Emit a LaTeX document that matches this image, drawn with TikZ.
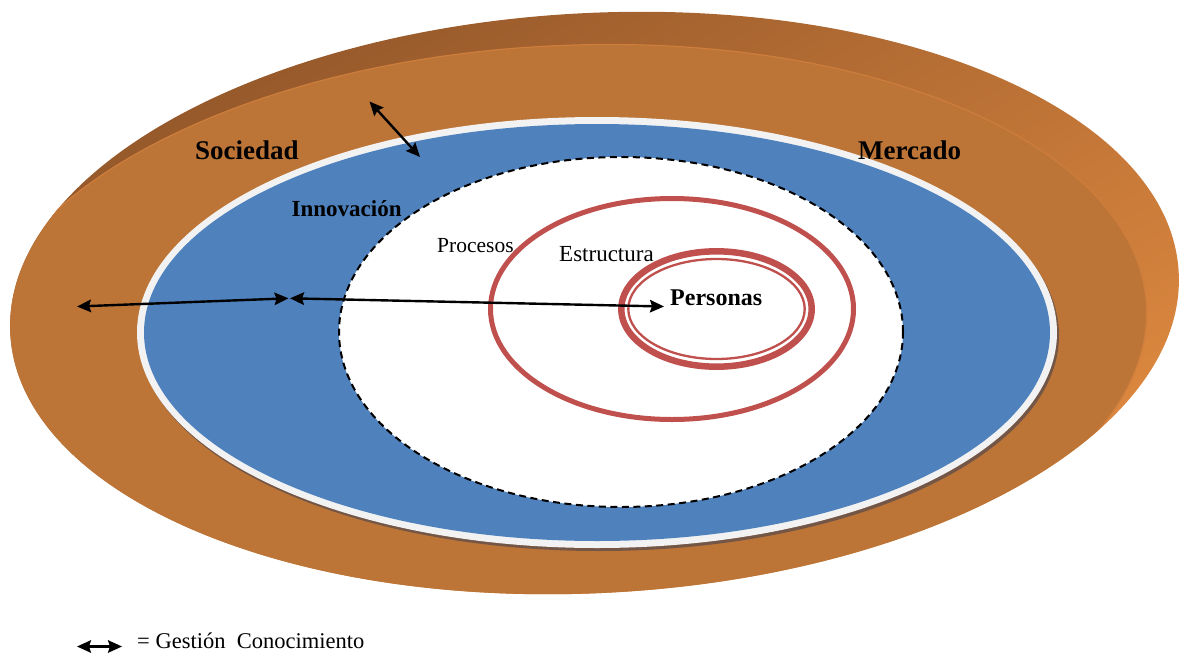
\documentclass[tikz,border=0pt]{standalone}
\usepackage{fontspec}
\setmainfont{Liberation Serif}
\usetikzlibrary{arrows.meta}
\definecolor{rimdark}{HTML}{93572A}
\definecolor{rimmid}{HTML}{A4622E}
\definecolor{rimlight}{HTML}{E08A40}
\definecolor{discface}{HTML}{BC7537}
\definecolor{discedge}{HTML}{CD7D3C}
\definecolor{ringshadow}{HTML}{735646}
\definecolor{ringwhite}{HTML}{F2F2F2}
\definecolor{innoblue}{HTML}{4F81BD}
\definecolor{corered}{HTML}{C0504D}
\begin{document}
\begin{tikzpicture}[x=1pt,y=-1pt,
  gctip/.tip={Stealth[length=14pt,width=12.5pt,inset=2pt]},
  gcarrow/.style={gctip-gctip, line width=2.4pt, black},
  lbl/.style={anchor=base west, inner sep=0pt, text=black},
  boldlbl/.style={lbl, font=\bfseries\fontsize{27}{30}\selectfont},
  plainlbl/.style={lbl, font=\fontsize{22}{26}\selectfont},
  redline/.style={draw=corered},
  disc/.style={x radius=585pt, y radius=290pt},
]
\useasboundingbox (0,0) rectangle (1181,654);

% outer disc, slightly tilted: side wall, then the top face
\begin{scope}[rotate around={3:(594.5,303)}]
  \shade[top color=rimdark, middle color=rimmid, bottom color=rimlight, shading angle=30]
    (594.5,303) ellipse [disc];
  \begin{scope}
    \clip (594.5,303) ellipse [disc];
    \fill[discface, draw=discedge, line width=1.2pt]
      (560.5,334) ellipse [disc];
  \end{scope}
\end{scope}

% innovation ring with its white rim and shadow
\fill[ringshadow] (599,335.5) ellipse [x radius=460pt, y radius=215.5pt];
\fill[ringwhite] (597,332.5) ellipse [x radius=460pt, y radius=215.5pt];
\fill[innoblue] (597,332.5) ellipse [x radius=453pt, y radius=208.5pt];

% processes (dashed boundary)
\draw[fill=white, line width=2pt, dash pattern=on 7pt off 4.5pt]
  (621,332) ellipse [x radius=282pt, y radius=175pt];

\node[plainlbl, font=\fontsize{21.5}{25}\selectfont] (procesos) at (437,252.7) {Procesos};

% structure and people
\draw[redline, line width=5pt] (672,309) ellipse [x radius=181.5pt, y radius=110.5pt];
\draw[redline, line width=6.5pt] (716.5,309) ellipse [x radius=95.2pt, y radius=57.7pt];
\draw[redline, line width=2.3pt] (716.5,309) ellipse [x radius=88.2pt, y radius=50pt];

% labels
\node[boldlbl] (sociedad) at (195,159.3) {Sociedad};
\node[boldlbl] (mercado) at (858,159.3) {Mercado};
\node[lbl, font=\bfseries\fontsize{23}{27}\selectfont] (innovacion) at (291.5,216.7) {Innovación};
\node[plainlbl, font=\fontsize{23}{27}\selectfont] (estructura) at (559,261.7) {Estructura};
\node[lbl, font=\bfseries\fontsize{24}{28}\selectfont] (personas) at (670,305) {Personas};

% knowledge-management arrows
\coordinate (a1) at (369.5,101.5);
\coordinate (a2) at (420,157);
\coordinate (b1) at (77,306.5);
\coordinate (b2) at (288.5,298.3);
\coordinate (c1) at (290,298.3);
\coordinate (c2) at (664,306.5);
\draw[gcarrow] (a1) -- (a2);
\draw[gcarrow] (b1) -- (b2);
\draw[gcarrow] (c1) -- (c2);

% legend
\coordinate (g1) at (77,646.5);
\coordinate (g2) at (122,646.5);
\draw[gcarrow, line width=2.2pt] (g1) -- (g2);
\node[plainlbl, font=\fontsize{22.5}{26}\selectfont] (legend) at (137,648) {= Gestión~ Conocimiento};
\end{tikzpicture}
\end{document}
